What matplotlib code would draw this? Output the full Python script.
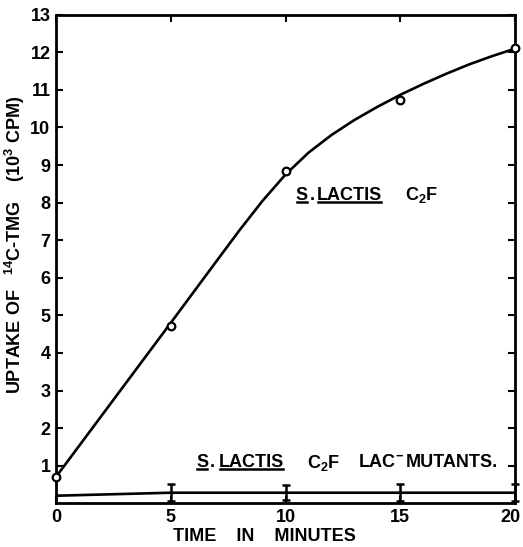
import matplotlib
matplotlib.use('Agg')
import matplotlib.pyplot as plt
import matplotlib.transforms as mtransforms
from matplotlib.lines import Line2D

# measured points, lactose-positive strain
time_pts = [0, 5, 10, 15, 20]
uptake_pts = [0.7, 4.72, 8.85, 10.72, 12.12]

# drawn curve
curve_t = [0, 2.5, 5, 7, 8, 9, 10, 11, 12, 13, 14, 15, 16, 17, 18, 19, 20]
curve_y = [0.7, 2.75, 4.8, 6.45, 7.27, 8.05, 8.75, 9.33, 9.8, 10.2, 10.55, 10.87,
           11.16, 11.43, 11.68, 11.9, 12.1]

# lac- mutants
mut_t = [0, 5, 10, 15, 20]
mut_y = [0.2, 0.28, 0.28, 0.28, 0.28]
mut_err = [0, 0.22, 0.2, 0.22, 0.22]

xticks = [0, 5, 10, 15, 20]
yticks = list(range(1, 14))

plt.rcParams['font.family'] = ['Liberation Sans', 'DejaVu Sans']
plt.rcParams['font.weight'] = 'bold'
plt.rcParams['mathtext.default'] = 'regular'

fig = plt.figure(figsize=(5.23, 5.47), dpi=100)
ax = fig.add_axes([0.107, 0.080, 0.878, 0.893])

ax.plot(curve_t, curve_y, color='black', lw=1.9)
ax.plot(time_pts, uptake_pts, 'o', mfc='white', mec='black', ms=5.5, mew=1.6, clip_on=False, zorder=3)
ax.plot(mut_t, mut_y, color='black', lw=1.9)
ax.errorbar(mut_t[1:], mut_y[1:], yerr=mut_err[1:], fmt='none', ecolor='black',
            elinewidth=1.8, capsize=3, capthick=1.8, clip_on=False)

ax.set_xlim(0, 20)
ax.set_ylim(0, 13)
ax.set_xticks(xticks)
ax.set_yticks(yticks)
ax.tick_params(direction='in', length=5, width=1.5, labelsize=13, top=True, right=True, pad=4)
for s in ax.spines.values():
    s.set_linewidth(2)
for lab in ax.get_xticklabels() + ax.get_yticklabels():
    lab.set_fontweight('bold')
# keep the last x label inside the figure
last = ax.get_xticklabels()[-1]
last.set_transform(last.get_transform() + mtransforms.ScaledTranslation(-5 / 100, 0, fig.dpi_scale_trans))

ax.set_xlabel('TIME    IN    MINUTES', fontsize=13, fontweight='bold')
ax.xaxis.set_label_coords(0.455, -0.05)
ax.set_ylabel('UPTAKE OF   $^{14}$C-TMG    (10$^{3}$ CPM)', fontsize=13, fontweight='bold')
ax.yaxis.set_label_coords(-0.062, 0.53)

# labels inside the plot
fs = 13
t1 = ax.text(10.45, 8.2, 'S', fontsize=fs, fontweight='bold', va='center')
ax.text(11.05, 8.2, '.', fontsize=fs, fontweight='bold', va='center')
t3 = ax.text(11.35, 8.2, 'LACTIS', fontsize=fs, fontweight='bold', va='center')
ax.text(15.2, 8.2, 'C$_2$F', fontsize=fs, fontweight='bold', va='center')

t4 = ax.text(6.1, 1.08, 'S', fontsize=fs, fontweight='bold', va='center')
ax.text(6.7, 1.08, '.', fontsize=fs, fontweight='bold', va='center')
t6 = ax.text(7.1, 1.08, 'LACTIS', fontsize=fs, fontweight='bold', va='center')
ax.text(10.95, 1.08, 'C$_2$F', fontsize=fs, fontweight='bold', va='center')
ax.text(13.15, 1.08, 'LAC$^{-}$', fontsize=fs, fontweight='bold', va='center')
ax.text(15.25, 1.08, 'MUTANTS.', fontsize=fs, fontweight='bold', va='center')

fig.canvas.draw()
for t in [t1, t3, t4, t6]:
    bb = t.get_window_extent()
    yy = bb.y0 + 2
    fig.add_artist(Line2D([bb.x0 + 1, bb.x1 - 1], [yy, yy], color='black', lw=1.8,
                          transform=None))

fig.savefig('out.png', dpi=100)
